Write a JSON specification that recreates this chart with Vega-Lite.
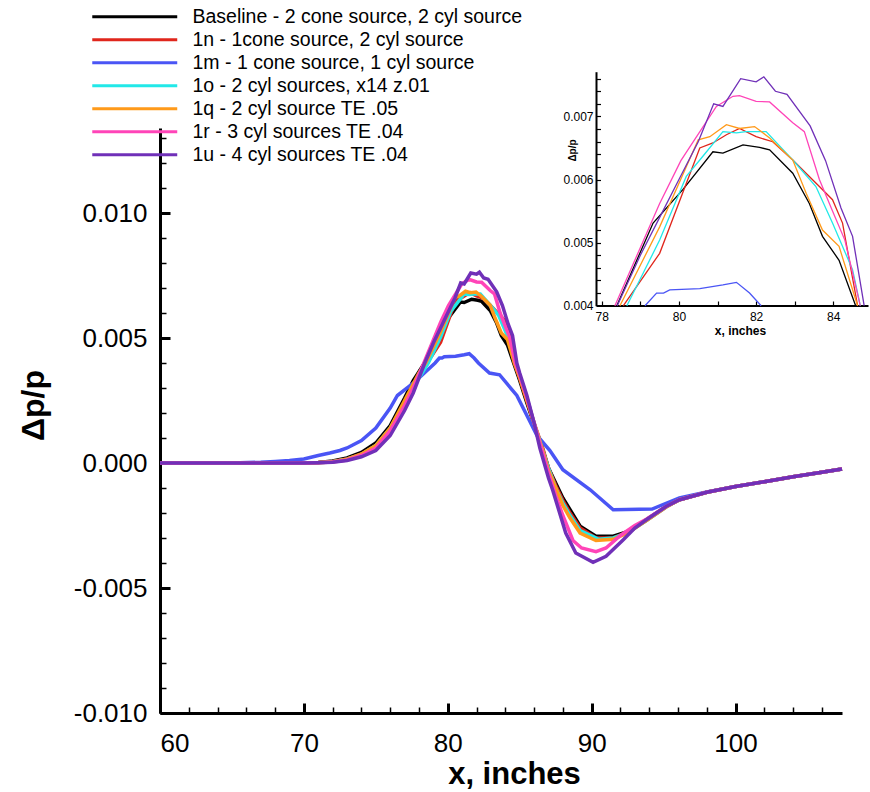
{
  "$schema": "https://vega.github.io/schema/vega-lite/v6.json",
  "width": 682,
  "height": 585,
  "autosize": {"type": "none"},
  "padding": {"left": 160, "top": 128, "right": 28, "bottom": 79},
  "background": "white",
  "config": {
    "view": {"stroke": null},
    "axis": {"grid": false, "domainColor": "black", "tickColor": "black", "labelColor": "black", "titleColor": "black", "labelFont": "Liberation Sans", "titleFont": "Liberation Sans"}
  },
  "datasets": {
    "d": [
      {"s":"B","x":60,"v":0},{"s":"B","x":65,"v":0},{"s":"B","x":70,"v":0},{"s":"B","x":71,"v":0.00002},{"s":"B","x":72,"v":0.00008},{"s":"B","x":73,"v":0.0002},{"s":"B","x":74,"v":0.00042},{"s":"B","x":75,"v":0.0008},{"s":"B","x":76,"v":0.0015},{"s":"B","x":77,"v":0.0026},{"s":"B","x":77.6,"v":0.0033},{"s":"B","x":78.39,"v":0.004},{"s":"B","x":79.33,"v":0.00531},{"s":"B","x":80.1,"v":0.00584},{"s":"B","x":80.88,"v":0.00644},{"s":"B","x":81.14,"v":0.00642},{"s":"B","x":81.66,"v":0.00655},{"s":"B","x":82.09,"v":0.00651},{"s":"B","x":82.35,"v":0.00647},{"s":"B","x":82.95,"v":0.0061},{"s":"B","x":83.38,"v":0.00562},{"s":"B","x":83.72,"v":0.0051},{"s":"B","x":84.15,"v":0.00472},{"s":"B","x":84.58,"v":0.004},{"s":"B","x":85,"v":0.0033},{"s":"B","x":85.5,"v":0.0024},{"s":"B","x":86,"v":0.00155},{"s":"B","x":86.6,"v":0.00053},{"s":"B","x":87,"v":-0.0002},{"s":"B","x":87.5,"v":-0.0008},{"s":"B","x":88,"v":-0.0014},{"s":"B","x":88.5,"v":-0.00187},{"s":"B","x":89.2,"v":-0.00253},{"s":"B","x":90.3,"v":-0.00293},{"s":"B","x":91.5,"v":-0.00293},{"s":"B","x":92.6,"v":-0.00273},{"s":"B","x":93.8,"v":-0.00227},{"s":"B","x":95.2,"v":-0.00173},{"s":"B","x":96.1,"v":-0.00147},{"s":"B","x":98,"v":-0.00117},{"s":"B","x":100,"v":-0.00094},{"s":"B","x":102,"v":-0.00075},{"s":"B","x":104,"v":-0.00055},{"s":"B","x":106,"v":-0.00037},{"s":"B","x":107.4,"v":-0.00024},

      {"s":"1n","x":60,"v":0},{"s":"1n","x":65,"v":0},{"s":"1n","x":70,"v":0},{"s":"1n","x":71,"v":0.00002},{"s":"1n","x":72,"v":0.00006},{"s":"1n","x":73,"v":0.00016},{"s":"1n","x":74,"v":0.00036},{"s":"1n","x":75,"v":0.0007},{"s":"1n","x":76,"v":0.0014},{"s":"1n","x":77,"v":0.0024},{"s":"1n","x":77.6,"v":0.0031},{"s":"1n","x":78.56,"v":0.004},{"s":"1n","x":79.5,"v":0.00483},{"s":"1n","x":80.54,"v":0.0065},{"s":"1n","x":80.88,"v":0.00658},{"s":"1n","x":81.23,"v":0.00671},{"s":"1n","x":81.57,"v":0.00681},{"s":"1n","x":82.0,"v":0.00668},{"s":"1n","x":82.43,"v":0.0066},{"s":"1n","x":82.95,"v":0.00631},{"s":"1n","x":83.64,"v":0.00589},{"s":"1n","x":83.98,"v":0.00568},{"s":"1n","x":84.24,"v":0.00531},{"s":"1n","x":84.63,"v":0.004},{"s":"1n","x":85,"v":0.0034},{"s":"1n","x":85.5,"v":0.0025},{"s":"1n","x":86,"v":0.0016},{"s":"1n","x":86.6,"v":0.0006},{"s":"1n","x":87,"v":-0.0002},{"s":"1n","x":87.5,"v":-0.0009},{"s":"1n","x":88,"v":-0.0015},{"s":"1n","x":88.5,"v":-0.002},{"s":"1n","x":89.2,"v":-0.0026},{"s":"1n","x":90.3,"v":-0.003},{"s":"1n","x":91.5,"v":-0.003},{"s":"1n","x":92.4,"v":-0.0028},{"s":"1n","x":93.8,"v":-0.0023},{"s":"1n","x":95.2,"v":-0.00175},{"s":"1n","x":96.1,"v":-0.00147},{"s":"1n","x":98,"v":-0.00117},{"s":"1n","x":100,"v":-0.00094},{"s":"1n","x":102,"v":-0.00075},{"s":"1n","x":104,"v":-0.00055},{"s":"1n","x":106,"v":-0.00037},{"s":"1n","x":107.4,"v":-0.00024},

      {"s":"1m","x":60,"v":0},{"s":"1m","x":65,"v":0},{"s":"1m","x":67,"v":0.00003},{"s":"1m","x":68,"v":0.00006},{"s":"1m","x":69,"v":0.0001},{"s":"1m","x":70,"v":0.00016},{"s":"1m","x":71,"v":0.0003},{"s":"1m","x":71.8,"v":0.0004},{"s":"1m","x":72.5,"v":0.0005},{"s":"1m","x":73,"v":0.0006},{"s":"1m","x":74,"v":0.0009},{"s":"1m","x":75,"v":0.0014},{"s":"1m","x":76,"v":0.0022},{"s":"1m","x":76.5,"v":0.0027},{"s":"1m","x":77.4,"v":0.0031},{"s":"1m","x":78,"v":0.0034},{"s":"1m","x":79.12,"v":0.004},{"s":"1m","x":79.42,"v":0.0042},{"s":"1m","x":79.6,"v":0.0042},{"s":"1m","x":79.76,"v":0.00425},{"s":"1m","x":80.54,"v":0.00427},{"s":"1m","x":81.14,"v":0.00433},{"s":"1m","x":81.49,"v":0.00437},{"s":"1m","x":81.83,"v":0.0042},{"s":"1m","x":82.13,"v":0.004},{"s":"1m","x":82.9,"v":0.0036},{"s":"1m","x":83.6,"v":0.00353},{"s":"1m","x":84.8,"v":0.0027},{"s":"1m","x":85.5,"v":0.0019},{"s":"1m","x":86.2,"v":0.0011},{"s":"1m","x":87.1,"v":0.0005},{"s":"1m","x":88,"v":-0.00027},{"s":"1m","x":89.9,"v":-0.00107},{"s":"1m","x":91.5,"v":-0.00187},{"s":"1m","x":94.2,"v":-0.00184},{"s":"1m","x":96.1,"v":-0.0014},{"s":"1m","x":98,"v":-0.00116},{"s":"1m","x":100,"v":-0.00094},{"s":"1m","x":102,"v":-0.00075},{"s":"1m","x":104,"v":-0.00055},{"s":"1m","x":106,"v":-0.00037},{"s":"1m","x":107.4,"v":-0.00024},

      {"s":"1o","x":60,"v":0},{"s":"1o","x":65,"v":0},{"s":"1o","x":70,"v":0},{"s":"1o","x":71,"v":0.00001},{"s":"1o","x":72,"v":0.00005},{"s":"1o","x":73,"v":0.00015},{"s":"1o","x":74,"v":0.00034},{"s":"1o","x":75,"v":0.0007},{"s":"1o","x":76,"v":0.0014},{"s":"1o","x":77,"v":0.0024},{"s":"1o","x":78,"v":0.0034},{"s":"1o","x":78.65,"v":0.004},{"s":"1o","x":79.5,"v":0.00504},{"s":"1o","x":80.19,"v":0.00605},{"s":"1o","x":80.62,"v":0.00637},{"s":"1o","x":81.14,"v":0.00676},{"s":"1o","x":81.49,"v":0.00674},{"s":"1o","x":81.74,"v":0.00676},{"s":"1o","x":82.26,"v":0.00676},{"s":"1o","x":82.95,"v":0.00631},{"s":"1o","x":83.55,"v":0.00589},{"s":"1o","x":83.98,"v":0.00531},{"s":"1o","x":84.5,"v":0.00457},{"s":"1o","x":84.7,"v":0.004},{"s":"1o","x":85,"v":0.0035},{"s":"1o","x":85.5,"v":0.0026},{"s":"1o","x":86,"v":0.0016},{"s":"1o","x":86.6,"v":0.0005},{"s":"1o","x":87,"v":-0.0002},{"s":"1o","x":87.5,"v":-0.001},{"s":"1o","x":88,"v":-0.0016},{"s":"1o","x":88.5,"v":-0.0021},{"s":"1o","x":89.2,"v":-0.0027},{"s":"1o","x":90.5,"v":-0.00305},{"s":"1o","x":91.5,"v":-0.003},{"s":"1o","x":92.5,"v":-0.0028},{"s":"1o","x":93.8,"v":-0.0023},{"s":"1o","x":95.2,"v":-0.00175},{"s":"1o","x":96.1,"v":-0.00147},{"s":"1o","x":98,"v":-0.00117},{"s":"1o","x":100,"v":-0.00094},{"s":"1o","x":102,"v":-0.00075},{"s":"1o","x":104,"v":-0.00055},{"s":"1o","x":106,"v":-0.00037},{"s":"1o","x":107.4,"v":-0.00024},

      {"s":"1q","x":60,"v":0},{"s":"1q","x":65,"v":0},{"s":"1q","x":70,"v":0},{"s":"1q","x":71,"v":0.00001},{"s":"1q","x":72,"v":0.00005},{"s":"1q","x":73,"v":0.00015},{"s":"1q","x":74,"v":0.00035},{"s":"1q","x":75,"v":0.0007},{"s":"1q","x":76,"v":0.0014},{"s":"1q","x":77,"v":0.0025},{"s":"1q","x":78,"v":0.0036},{"s":"1q","x":78.47,"v":0.004},{"s":"1q","x":79.5,"v":0.00525},{"s":"1q","x":80.5,"v":0.00663},{"s":"1q","x":80.8,"v":0.00668},{"s":"1q","x":81.23,"v":0.00687},{"s":"1q","x":81.57,"v":0.00681},{"s":"1q","x":81.96,"v":0.00684},{"s":"1q","x":82.35,"v":0.00666},{"s":"1q","x":82.95,"v":0.00631},{"s":"1q","x":83.3,"v":0.00578},{"s":"1q","x":83.72,"v":0.0052},{"s":"1q","x":84.15,"v":0.00494},{"s":"1q","x":84.63,"v":0.004},{"s":"1q","x":85,"v":0.0034},{"s":"1q","x":85.5,"v":0.0025},{"s":"1q","x":86,"v":0.0016},{"s":"1q","x":86.6,"v":0.0005},{"s":"1q","x":87,"v":-0.0003},{"s":"1q","x":87.5,"v":-0.001},{"s":"1q","x":88,"v":-0.0017},{"s":"1q","x":88.5,"v":-0.0022},{"s":"1q","x":89.2,"v":-0.0028},{"s":"1q","x":90.3,"v":-0.0031},{"s":"1q","x":91.5,"v":-0.00305},{"s":"1q","x":92.5,"v":-0.0028},{"s":"1q","x":93.8,"v":-0.0023},{"s":"1q","x":95.2,"v":-0.00175},{"s":"1q","x":96.1,"v":-0.00147},{"s":"1q","x":98,"v":-0.00117},{"s":"1q","x":100,"v":-0.00094},{"s":"1q","x":102,"v":-0.00075},{"s":"1q","x":104,"v":-0.00055},{"s":"1q","x":106,"v":-0.00037},{"s":"1q","x":107.4,"v":-0.00024},

      {"s":"1r","x":60,"v":0},{"s":"1r","x":65,"v":0},{"s":"1r","x":70,"v":0},{"s":"1r","x":71,"v":0.00001},{"s":"1r","x":72,"v":0.00004},{"s":"1r","x":73,"v":0.00012},{"s":"1r","x":74,"v":0.0003},{"s":"1r","x":75,"v":0.0006},{"s":"1r","x":76,"v":0.0013},{"s":"1r","x":77,"v":0.0023},{"s":"1r","x":77.6,"v":0.003},{"s":"1r","x":78.34,"v":0.004},{"s":"1r","x":79.5,"v":0.00562},{"s":"1r","x":80.05,"v":0.0063},{"s":"1r","x":80.97,"v":0.00716},{"s":"1r","x":81.4,"v":0.00732},{"s":"1r","x":81.57,"v":0.00733},{"s":"1r","x":82.0,"v":0.00724},{"s":"1r","x":82.35,"v":0.00723},{"s":"1r","x":82.95,"v":0.0069},{"s":"1r","x":83.25,"v":0.00676},{"s":"1r","x":83.64,"v":0.006},{"s":"1r","x":83.98,"v":0.0055},{"s":"1r","x":84.3,"v":0.00504},{"s":"1r","x":84.7,"v":0.004},{"s":"1r","x":85,"v":0.0035},{"s":"1r","x":85.5,"v":0.0026},{"s":"1r","x":86,"v":0.0016},{"s":"1r","x":86.6,"v":0.0004},{"s":"1r","x":87,"v":-0.0004},{"s":"1r","x":87.5,"v":-0.0013},{"s":"1r","x":88,"v":-0.0021},{"s":"1r","x":88.7,"v":-0.0031},{"s":"1r","x":89.3,"v":-0.0034},{"s":"1r","x":90.3,"v":-0.00355},{"s":"1r","x":91,"v":-0.0034},{"s":"1r","x":92,"v":-0.0029},{"s":"1r","x":93,"v":-0.0025},{"s":"1r","x":93.8,"v":-0.00225},{"s":"1r","x":95.2,"v":-0.00173},{"s":"1r","x":96.1,"v":-0.00147},{"s":"1r","x":98,"v":-0.00117},{"s":"1r","x":100,"v":-0.00094},{"s":"1r","x":102,"v":-0.00075},{"s":"1r","x":104,"v":-0.00055},{"s":"1r","x":106,"v":-0.00037},{"s":"1r","x":107.4,"v":-0.00024},

      {"s":"1u","x":60,"v":0},{"s":"1u","x":65,"v":0},{"s":"1u","x":70,"v":0},{"s":"1u","x":71,"v":0.00001},{"s":"1u","x":72,"v":0.00003},{"s":"1u","x":73,"v":0.0001},{"s":"1u","x":74,"v":0.00025},{"s":"1u","x":75,"v":0.0005},{"s":"1u","x":76,"v":0.0011},{"s":"1u","x":77,"v":0.0021},{"s":"1u","x":77.6,"v":0.0028},{"s":"1u","x":78.4,"v":0.004},{"s":"1u","x":79,"v":0.0048},{"s":"1u","x":79.5,"v":0.0054},{"s":"1u","x":80,"v":0.006},{"s":"1u","x":80.5,"v":0.0066},{"s":"1u","x":80.9,"v":0.0072},{"s":"1u","x":81.14,"v":0.00716},{"s":"1u","x":81.6,"v":0.0076},{"s":"1u","x":82.0,"v":0.00755},{"s":"1u","x":82.2,"v":0.00763},{"s":"1u","x":82.5,"v":0.0074},{"s":"1u","x":82.8,"v":0.00735},{"s":"1u","x":83.4,"v":0.00685},{"s":"1u","x":83.8,"v":0.0063},{"s":"1u","x":84.2,"v":0.00555},{"s":"1u","x":84.5,"v":0.0051},{"s":"1u","x":84.8,"v":0.004},{"s":"1u","x":85,"v":0.0036},{"s":"1u","x":85.5,"v":0.0027},{"s":"1u","x":86,"v":0.0016},{"s":"1u","x":86.4,"v":0.0006},{"s":"1u","x":87,"v":-0.0006},{"s":"1u","x":87.3,"v":-0.0011},{"s":"1u","x":88.2,"v":-0.0028},{"s":"1u","x":88.9,"v":-0.0036},{"s":"1u","x":90.1,"v":-0.00397},{"s":"1u","x":91,"v":-0.00373},{"s":"1u","x":92.2,"v":-0.00307},{"s":"1u","x":93,"v":-0.0026},{"s":"1u","x":93.8,"v":-0.00227},{"s":"1u","x":95.2,"v":-0.00173},{"s":"1u","x":96.1,"v":-0.00147},{"s":"1u","x":98,"v":-0.00117},{"s":"1u","x":100,"v":-0.00094},{"s":"1u","x":102,"v":-0.00075},{"s":"1u","x":104,"v":-0.00055},{"s":"1u","x":106,"v":-0.00037},{"s":"1u","x":107.4,"v":-0.00024}
    ]
  },
  "data": {"name": "d"},
  "layer": [
    {
      "mark": {"type": "line", "strokeWidth": 3.5},
      "encoding": {
        "x": {"field": "x", "type": "quantitative",
          "scale": {"domain": [60, 107.4], "nice": false, "zero": false},
          "axis": {"orient": "bottom", "values": [60, 70, 80, 90, 100], "format": "d", "ticks": false, "domainWidth": 3, "labelFontSize": 26, "labelPadding": 17, "labelBaseline": "top", "title": "x, inches", "titleFontSize": 31, "titleFontWeight": "bold", "titleX": 354, "titleY": 70, "titleBaseline": "alphabetic"}},
        "y": {"field": "v", "type": "quantitative",
          "scale": {"domain": [-0.01, 0.0134], "nice": false, "zero": false},
          "axis": {"orient": "left", "values": [-0.01, -0.005, 0, 0.005, 0.01], "labelExpr": "replace(format(datum.value, '.3f'), '\u2212', '-')", "ticks": false, "domainWidth": 3, "labelFontSize": 26, "labelPadding": 13, "title": "\u0394p/p", "titleFontSize": 32, "titleFontWeight": "bold", "titleX": -117, "titleY": 277, "titleBaseline": "alphabetic", "titleAngle": -90}},
        "color": {"field": "s", "type": "nominal",
          "scale": {"domain": ["B", "1n", "1m", "1o", "1q", "1r", "1u"], "range": ["#000000", "#e0261c", "#4a55f5", "#22e8e8", "#ff9a1a", "#ff44b8", "#7030b8"]},
          "legend": {"orient": "none", "legendX": -35, "legendY": -121, "title": null, "symbolType": "M-16,0H16", "symbolSize": 28.2, "symbolStrokeWidth": 3, "labelFontSize": 19.5, "labelFont": "Liberation Sans", "labelColor": "black", "labelOffset": 48, "labelLimit": 600, "rowPadding": 2, "padding": 0,
            "labelExpr": "{'B':'Baseline - 2 cone source, 2 cyl source','1n':'1n - 1cone source, 2 cyl source','1m':'1m - 1 cone source, 1 cyl source','1o':'1o - 2 cyl sources, x14 z.01','1q':'1q - 2 cyl source TE .05','1r':'1r - 3 cyl sources TE .04','1u':'1u - 4 cyl sources TE .04'}[datum.label]"}}
      }
    },
    {
      "mark": {"type": "line", "strokeOpacity": 0},
      "encoding": {
        "x": {"field": "x", "type": "quantitative",
          "scale": {"domain": [60, 107.4], "nice": false, "zero": false},
          "axis": {"orient": "bottom", "offset": -10, "values": [60, 70, 80, 90, 100], "labels": false, "domain": false, "ticks": true, "tickSize": 10, "tickWidth": 3, "tickColor": "#000000", "tickOpacity": 1, "title": null}},
        "y": {"field": "v", "type": "quantitative",
          "scale": {"domain": [-0.01, 0.0134], "nice": false, "zero": false},
          "axis": {"orient": "left", "offset": -10, "values": [-0.01, -0.005, 0, 0.005, 0.01], "labels": false, "domain": false, "ticks": true, "tickSize": 10, "tickWidth": 3, "tickColor": "#000000", "tickOpacity": 1, "title": null}},
        "detail": {"field": "s"}
      }
    },
    {
      "mark": {"type": "line", "strokeOpacity": 0},
      "encoding": {
        "x": {"field": "x", "type": "quantitative",
          "scale": {"domain": [60, 107.4], "nice": false, "zero": false},
          "axis": {"orient": "bottom", "offset": -6, "values": [62, 64, 66, 68, 72, 74, 76, 78, 82, 84, 86, 88, 92, 94, 96, 98, 102, 104, 106], "labels": false, "domain": false, "ticks": true, "tickSize": 6, "tickWidth": 1.5, "tickColor": "#000000", "tickOpacity": 1, "title": null}},
        "y": {"field": "v", "type": "quantitative",
          "scale": {"domain": [-0.01, 0.0134], "nice": false, "zero": false},
          "axis": {"orient": "left", "offset": -6, "values": [-0.009, -0.008, -0.007, -0.006, -0.004, -0.003, -0.002, -0.001, 0.001, 0.002, 0.003, 0.004, 0.006, 0.007, 0.008, 0.009, 0.011, 0.012, 0.013], "labels": false, "domain": false, "ticks": true, "tickSize": 6, "tickWidth": 1.5, "tickColor": "#000000", "tickOpacity": 1, "title": null}},
        "detail": {"field": "s"}
      }
    },
    {
      "transform": [{"filter": "datum.v >= 0.0039999 && datum.x >= 77.85 && datum.x <= 84.9"}],
      "mark": {"type": "line", "strokeWidth": 1.3},
      "encoding": {
        "x": {"field": "x", "type": "quantitative",
          "scale": {"domain": [77.85, 84.9], "range": [436, 708], "nice": false, "zero": false},
          "axis": {"orient": "bottom", "offset": -407.5, "values": [78, 80, 82, 84], "format": "d", "ticks": false, "domainWidth": 2, "labelFontSize": 12, "labelPadding": 6, "labelBaseline": "top", "title": "x, inches", "titleFontSize": 12, "titleFontWeight": "bold", "titleX": 580, "titleY": 29, "titleBaseline": "alphabetic"}},
        "y": {"field": "v", "type": "quantitative",
          "scale": {"domain": [0.004, 0.00771], "range": [177.7, -56.3], "nice": false, "zero": false},
          "axis": {"orient": "left", "offset": -436, "values": [0.004, 0.005, 0.006, 0.007], "labelExpr": "format(datum.value, '.3f')", "ticks": false, "domainWidth": 2, "labelFontSize": 12, "labelPadding": 3, "title": "\u0394p/p", "titleFontSize": 10, "titleFontWeight": "bold", "titleX": -24, "titleY": 22, "titleAlign": "center", "titleBaseline": "middle", "titleAngle": -90}},
        "color": {"field": "s", "type": "nominal", "legend": null}
      }
    },
    {
      "transform": [{"filter": "datum.v >= 0.0039999 && datum.x >= 77.85 && datum.x <= 84.9"}],
      "mark": {"type": "line", "strokeOpacity": 0},
      "encoding": {
        "x": {"field": "x", "type": "quantitative",
          "scale": {"domain": [77.85, 84.9], "range": [436, 708], "nice": false, "zero": false},
          "axis": {"orient": "bottom", "offset": -412, "values": [78, 79, 80, 81, 82, 83, 84], "labels": false, "domain": false, "ticks": true, "tickSize": 4.5, "tickWidth": 1.2, "tickColor": "#000000", "tickOpacity": 1, "title": null}},
        "y": {"field": "v", "type": "quantitative",
          "scale": {"domain": [0.004, 0.00771], "range": [177.7, -56.3], "nice": false, "zero": false},
          "axis": {"orient": "left", "offset": -440.5, "values": [0.0042, 0.0044, 0.0046, 0.0048, 0.005, 0.0052, 0.0054, 0.0056, 0.0058, 0.006, 0.0062, 0.0064, 0.0066, 0.0068, 0.007, 0.0072, 0.0074, 0.0076], "labels": false, "domain": false, "ticks": true, "tickSize": 4.5, "tickWidth": 1.2, "tickColor": "#000000", "tickOpacity": 1, "title": null}},
        "detail": {"field": "s"}
      }
    }
  ],
  "resolve": {"scale": {"x": "independent", "y": "independent"}, "axis": {"x": "independent", "y": "independent"}}
}
